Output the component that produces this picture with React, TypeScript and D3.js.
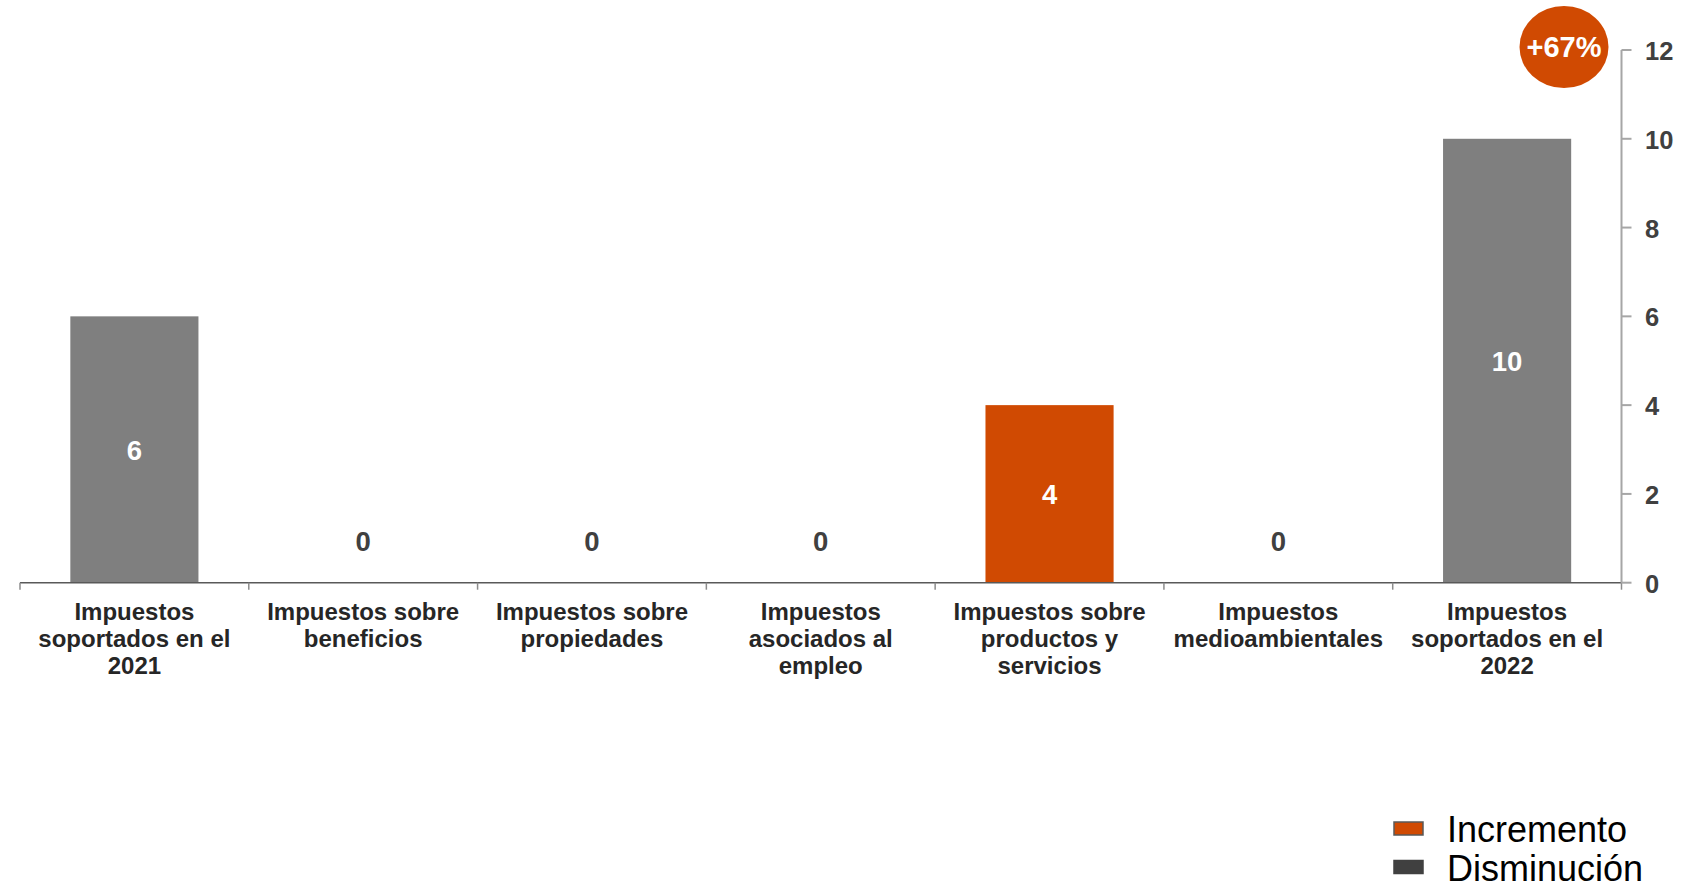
import React from "react";
import * as d3 from "d3";

const categories: string[][] = [
  ["Impuestos", "soportados en el", "2021"],
  ["Impuestos sobre", "beneficios"],
  ["Impuestos sobre", "propiedades"],
  ["Impuestos", "asociados al", "empleo"],
  ["Impuestos sobre", "productos y", "servicios"],
  ["Impuestos", "medioambientales"],
  ["Impuestos", "soportados en el", "2022"],
];
const values: number[] = [6, 0, 0, 0, 4, 0, 10];
const barKinds: string[] = ["total", "change", "change", "change", "change", "change", "total"];
const yTicks: number[] = [0, 2, 4, 6, 8, 10, 12];
const changeLabel = "+67%";
const legendItems: { label: string; kind: string }[] = [
  { label: "Incremento", kind: "inc" },
  { label: "Disminución", kind: "dec" },
];

const W = 1698;
const H = 888;
const FONT = "'Liberation Sans', Arial, Helvetica, sans-serif";
const ORANGE = "#d04a02";
const GRAY = "#7f7f7f";
const DARK = "#404040";

export default function App() {
  const left = 20;
  const right = 1621.5;
  const top = 50;
  const bottom = 582.7;

  const idx = categories.map((_, i) => String(i));
  const band = d3.scaleBand<string>().domain(idx).range([left, right]).paddingInner(0).paddingOuter(0);
  const barBand = d3
    .scaleBand<string>()
    .domain(idx)
    .range([left, right])
    .paddingInner(0.44)
    .paddingOuter(0.22);
  const y = d3.scaleLinear().domain([0, 12]).range([bottom, top]);

  const colorFor = (i: number) => {
    if (barKinds[i] === "total") return GRAY;
    return values[i] >= 0 ? ORANGE : DARK;
  };

  return (
    <svg
      width={W}
      height={H}
      style={{ position: "absolute", left: 0, top: 0, display: "block", background: "#fff" }}
      fontFamily={FONT}
    >
      {/* bars */}
      {values.map((v, i) => {
        const x = barBand(String(i))!;
        const y0 = y(0);
        const y1 = y(v);
        return (
          <rect
            key={"b" + i}
            x={x}
            y={Math.min(y0, y1)}
            width={barBand.bandwidth()}
            height={Math.abs(y0 - y1)}
            fill={colorFor(i)}
          />
        );
      })}

      {/* value labels */}
      {values.map((v, i) => {
        const cx = band(String(i))! + band.bandwidth() / 2;
        const inside = v !== 0;
        const cy = inside ? (y(0) + y(v)) / 2 + 1 : y(0) - 41;
        return (
          <text
            key={"v" + i}
            x={cx}
            y={cy}
            textAnchor="middle"
            dominantBaseline="central"
            fontSize={27.5}
            fontWeight="bold"
            fill={inside ? "#ffffff" : DARK}
          >
            {v}
          </text>
        );
      })}

      {/* x axis */}
      <line x1={left} x2={right} y1={bottom} y2={bottom} stroke="#595959" strokeWidth={1.5} />
      {idx.concat(["end"]).map((k, i) => {
        const x = k === "end" ? right : band(k)!;
        return (
          <line key={"xt" + i} x1={x} x2={x} y1={bottom} y2={bottom + 7} stroke="#8c8c8c" strokeWidth={1.5} />
        );
      })}
      {categories.map((lines, i) => {
        const cx = band(String(i))! + band.bandwidth() / 2;
        return (
          <text key={"c" + i} textAnchor="middle" fontSize={24} fontWeight="bold" fill="#262626">
            {lines.map((ln, j) => (
              <tspan key={j} x={cx} y={620 + j * 27}>
                {ln}
              </tspan>
            ))}
          </text>
        );
      })}

      {/* y axis (right) */}
      <line x1={right} x2={right} y1={y(12)} y2={y(0)} stroke="#a6a6a6" strokeWidth={2} />
      {yTicks.map((t) => (
        <g key={"yt" + t}>
          <line x1={right} x2={right + 10} y1={y(t)} y2={y(t)} stroke="#a6a6a6" strokeWidth={2} />
          <text
            x={1645}
            y={y(t) + 1}
            dominantBaseline="central"
            fontSize={25.5}
            fontWeight="bold"
            fill={DARK}
          >
            {t}
          </text>
        </g>
      ))}

      {/* change badge */}
      <ellipse cx={1564} cy={47} rx={44.5} ry={41} fill={ORANGE} />
      <text
        x={1564}
        y={47}
        textAnchor="middle"
        dominantBaseline="central"
        fontSize={29}
        fontWeight="bold"
        fill="#ffffff"
      >
        {changeLabel}
      </text>

      {/* legend */}
      {legendItems.map((it, i) => {
        const ly = 828.5 + i * 38.5;
        return (
          <g key={"l" + i}>
            <rect
              x={1394}
              y={ly - 6.5}
              width={29}
              height={13}
              fill={it.kind === "inc" ? ORANGE : DARK}
              stroke={it.kind === "inc" ? "#595959" : DARK}
              strokeWidth={1.5}
            />
            <text x={1447} y={ly + 13.5 + i * 0.5} fontSize={36} fill="#000000">
              {it.label}
            </text>
          </g>
        );
      })}
    </svg>
  );
}
